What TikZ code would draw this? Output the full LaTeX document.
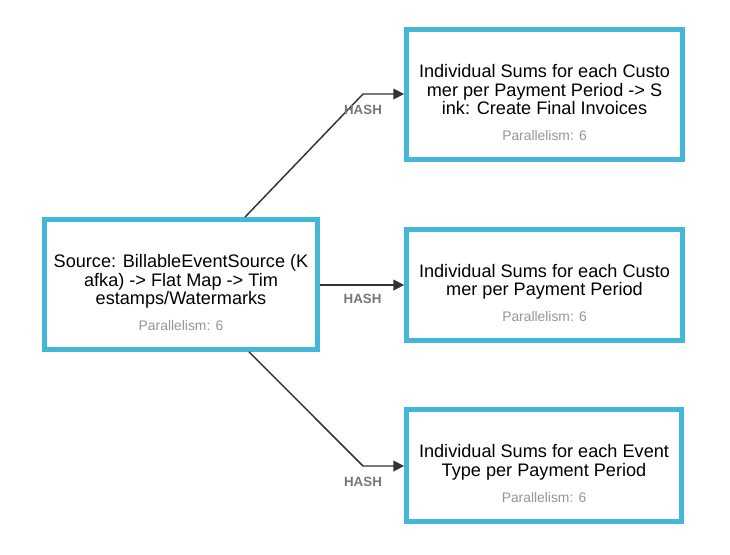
\documentclass[tikz,border=0pt]{standalone}
\usepackage{fontspec}
\setmainfont{Liberation Sans}
\usetikzlibrary{arrows.meta, positioning}

\definecolor{opblue}{RGB}{66,183,216}
\definecolor{edgegray}{RGB}{51,51,51}
\definecolor{pargray}{RGB}{150,150,150}
\definecolor{hashgray}{RGB}{119,119,119}

\tikzset{
  opbox/.style={draw=opblue, line width=3.6pt, fill=white, align=center,
    font=\fontsize{13.6}{13.9}\selectfont, inner sep=0pt},
  flow/.style={draw=edgegray, line width=1.1pt, -{Triangle[length=8pt,width=8pt]}},
  hashlbl/.style={font=\fontsize{10}{11}\selectfont\bfseries, text=hashgray, inner sep=1pt}
}
\newcommand{\para}{\\[5.5pt]{\fontsize{10.4}{11}\selectfont\color{pargray}Parallelism: 6}}
\newcommand{\topgap}{\rule{0pt}{22pt}}

\begin{document}
\begin{tikzpicture}[x=0.75pt, y=-0.75pt]
\useasboundingbox (0,0) rectangle (730,554);

% operators

\node[opbox, minimum width=273*0.75pt, minimum height=130*0.75pt] (source) at (181,284.5)
  {\topgap Source: BillableEventSource (K\\afka) -> Flat Map -> Tim\\estamps/Watermarks\para};
\node[opbox, minimum width=276*0.75pt, minimum height=130*0.75pt] (sink) at (544.5,94.5)
  {\topgap Individual Sums for each Custo\\mer per Payment Period -> S\\ink: Create Final Invoices\para};
\node[opbox, minimum width=276*0.75pt, minimum height=111*0.75pt] (custsums) at (544.5,285)
  {\topgap Individual Sums for each Custo\\mer per Payment Period\para};
\node[opbox, minimum width=275*0.75pt, minimum height=112*0.75pt] (typesums) at (544,465.5)
  {\topgap Individual Sums for each Event\\Type per Payment Period\para};

% bends

\coordinate (topbend) at (363,94);
\coordinate (lowbend) at (363,466);

% edges

\draw[flow] ([xshift=48pt]source.north) -- (topbend) -- (sink.west |- topbend);
\draw[flow] (source.east |- custsums.west) -- (custsums.west);
\draw[flow] ([xshift=51pt]source.south) -- (lowbend) -- (typesums.west |- lowbend);

\node[hashlbl, below=7pt of topbend] (hash1) {HASH};
\node[hashlbl, below=6pt of source.east |- custsums.west, xshift=32pt] (hash2) {HASH};
\node[hashlbl, below=7pt of lowbend] (hash3) {HASH};

\end{tikzpicture}
\end{document}
